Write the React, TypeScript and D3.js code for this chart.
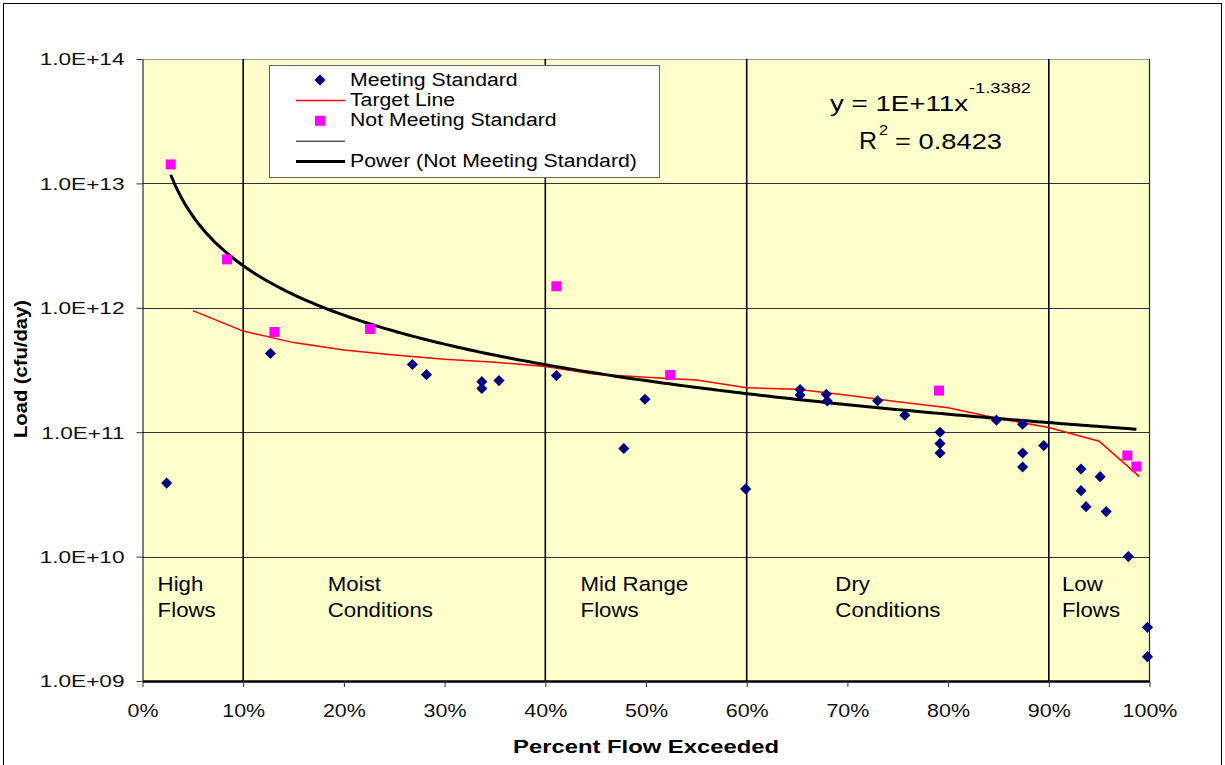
import React, { useEffect, useRef } from 'react';
import * as d3 from 'd3';

// percent flow exceeded (%) and load (cfu/day)
const meetingPct = [2.4, 12.7, 26.8, 28.2, 33.7, 33.7, 35.4, 41.1, 47.8, 49.9, 59.9, 65.3, 65.3, 67.9, 68.0, 73.0, 75.7, 79.2, 79.2, 79.2, 84.8, 87.4, 87.4, 87.4, 89.5, 93.2, 93.2, 93.7, 95.1, 95.7, 97.9, 99.8, 99.8];
const meetingLoad = [3.9e10, 4.3e11, 3.5e11, 2.9e11, 2.55e11, 2.25e11, 2.6e11, 2.85e11, 7.4e10, 1.84e11, 3.5e10, 2.2e11, 1.99e11, 2.02e11, 1.78e11, 1.79e11, 1.37e11, 1.0e11, 8.1e10, 6.8e10, 1.25e11, 1.16e11, 6.8e10, 5.25e10, 7.8e10, 5.06e10, 3.39e10, 2.52e10, 4.39e10, 2.3e10, 1.0e10, 2.7e9, 1.57e9];

const notMeetingPct = [2.8, 8.4, 13.1, 22.6, 41.1, 52.4, 79.1, 97.8, 98.7];
const notMeetingLoad = [1.42e13, 2.45e12, 6.4e11, 6.76e11, 1.49e12, 2.88e11, 2.16e11, 6.5e10, 5.3e10];

const targetPct = [5, 10, 15, 20, 25, 30, 35, 40, 45, 50, 55, 60, 65, 70, 75, 80, 85, 90, 95, 99];
const targetLoad = [9.5e11, 6.5e11, 5.25e11, 4.58e11, 4.17e11, 3.86e11, 3.65e11, 3.37e11, 2.92e11, 2.76e11, 2.63e11, 2.28e11, 2.21e11, 1.98e11, 1.76e11, 1.57e11, 1.29e11, 1.09e11, 8.45e10, 4.39e10];

const xTicks = [0, 10, 20, 30, 40, 50, 60, 70, 80, 90, 100];
const xTickLabels = ['0%', '10%', '20%', '30%', '40%', '50%', '60%', '70%', '80%', '90%', '100%'];
const yTicks = [1e9, 1e10, 1e11, 1e12, 1e13, 1e14];
const yTickLabels = ['1.0E+09', '1.0E+10', '1.0E+11', '1.0E+12', '1.0E+13', '1.0E+14'];

const zoneBreaks = [10, 40, 60, 90];
const zoneNames = [['High', 'Flows'], ['Moist', 'Conditions'], ['Mid Range', 'Flows'], ['Dry', 'Conditions'], ['Low', 'Flows']];
const zoneLabelPct = [1.5, 18.4, 43.5, 68.8, 91.3];

const legendLabels = ['Meeting Standard', 'Target Line', 'Not Meeting Standard', '', 'Power (Not Meeting Standard)'];
const eqMain = 'y = 1E+11x';
const eqExp = '-1.3382';
const r2Value = '= 0.8423';

const FONT = '"Liberation Sans", Arial, Helvetica, sans-serif';

// widen text by a factor (the original export is stretched horizontally)
const stretch = (sel, f) => {
  sel.each(function () {
    const w = this.getComputedTextLength();
    d3.select(this).attr('textLength', w * f).attr('lengthAdjust', 'spacingAndGlyphs');
  });
};

const LoadDurationChart = () => {
  const svgRef = useRef();

  useEffect(() => {
    const svg = d3.select(svgRef.current);
    svg.selectAll('*').remove();

    const width = 1225;
    const height = 765;
    const plot = { left: 142.5, right: 1149.5, top: 59, bottom: 681 };

    const x = d3.scaleLinear().domain([0, 100]).range([plot.left, plot.right]);
    const y = d3.scaleLog().domain([1e9, 1e14]).range([plot.bottom, plot.top]);

    svg.append('rect')
      .attr('width', width).attr('height', height).attr('fill', '#fff');
    svg.append('rect')
      .attr('x', 3.5).attr('y', 3.5).attr('width', 1218).attr('height', 775)
      .attr('fill', 'none').attr('stroke', '#000').attr('stroke-width', 1);

    svg.append('rect')
      .attr('x', plot.left).attr('y', plot.top)
      .attr('width', plot.right - plot.left).attr('height', plot.bottom - plot.top)
      .attr('fill', '#ffffcc');

    // horizontal gridlines
    svg.append('g')
      .selectAll('line')
      .data(yTicks.slice(1, -1))
      .join('line')
      .attr('x1', plot.left).attr('x2', plot.right)
      .attr('y1', (d) => Math.round(y(d)) + 0.5).attr('y2', (d) => Math.round(y(d)) + 0.5)
      .attr('stroke', '#333').attr('stroke-width', 1);
    svg.append('line')
      .attr('x1', plot.left).attr('x2', plot.right)
      .attr('y1', plot.top + 0.5).attr('y2', plot.top + 0.5)
      .attr('stroke', '#999');

    // flow zone dividers
    svg.append('g')
      .selectAll('line')
      .data(zoneBreaks)
      .join('line')
      .attr('x1', (d) => x(d)).attr('x2', (d) => x(d))
      .attr('y1', plot.top).attr('y2', plot.bottom)
      .attr('stroke', '#000').attr('stroke-width', 1.6);
    svg.append('line')
      .attr('x1', plot.right).attr('x2', plot.right)
      .attr('y1', plot.top).attr('y2', plot.bottom)
      .attr('stroke', '#222').attr('stroke-width', 1.2);

    // zone labels
    const zl = svg.append('g')
      .attr('font-family', FONT).attr('font-size', 21).attr('fill', '#000');
    zoneNames.forEach((lines, i) => {
      lines.forEach((t, j) => {
        zl.append('text')
          .attr('x', x(zoneLabelPct[i]))
          .attr('y', y(1e10) + 34 + j * 26.7)
          .text(t);
      });
    });
    stretch(zl.selectAll('text'), 1.06);

    // target line
    const targetPts = targetPct.map((p, i) => [p, targetLoad[i]]);
    svg.append('path')
      .datum(targetPts)
      .attr('fill', 'none')
      .attr('stroke', '#ff0000')
      .attr('stroke-width', 1.5)
      .attr('d', d3.line().x((d) => x(d[0])).y((d) => y(d[1])));

    // power trendline fitted to the Not Meeting Standard points
    const lx = notMeetingPct.map((p) => Math.log(p / 100));
    const ly = notMeetingLoad.map((v) => Math.log(v));
    const mx = d3.mean(lx);
    const my = d3.mean(ly);
    const b = d3.sum(lx, (v, i) => (v - mx) * (ly[i] - my)) / d3.sum(lx, (v) => (v - mx) ** 2);
    const a = Math.exp(my - b * mx);
    const x0 = d3.min(notMeetingPct);
    const x1 = d3.max(notMeetingPct);
    const fitPts = d3.range(x0, x1, 0.5).concat([x1]).map((p) => [p, a * Math.pow(p / 100, b)]);
    svg.append('path')
      .datum(fitPts)
      .attr('fill', 'none')
      .attr('stroke', '#000')
      .attr('stroke-width', 3)
      .attr('d', d3.line().x((d) => x(d[0])).y((d) => y(d[1])));

    // points
    const diamond = d3.symbol(d3.symbolSquare, 62)();
    svg.append('g')
      .selectAll('path')
      .data(meetingPct.map((p, i) => [p, meetingLoad[i]]))
      .join('path')
      .attr('d', diamond)
      .attr('transform', (d) => `translate(${x(d[0])},${y(d[1])}) rotate(45)`)
      .attr('fill', '#000080');

    const square = d3.symbol(d3.symbolSquare, 100)();
    svg.append('g')
      .selectAll('path')
      .data(notMeetingPct.map((p, i) => [p, notMeetingLoad[i]]))
      .join('path')
      .attr('d', square)
      .attr('transform', (d) => `translate(${x(d[0])},${y(d[1])})`)
      .attr('fill', '#ff00ff');

    // axes
    const yAxis = svg.append('g')
      .attr('transform', `translate(${plot.left},0)`)
      .call(d3.axisLeft(y).tickValues(yTicks).tickSize(6).tickSizeOuter(0).tickPadding(12)
        .tickFormat((d, i) => yTickLabels[i]));
    yAxis.select('.domain').attr('stroke', '#000');
    yAxis.selectAll('line').attr('stroke', '#333');
    yAxis.selectAll('text')
      .attr('font-family', FONT).attr('font-size', 17).attr('fill', '#111').attr('dy', '0.35em');
    yAxis.attr('font-size', null).attr('font-family', null);
    stretch(yAxis.selectAll('text'), 1.33);

    const xAxis = svg.append('g')
      .attr('transform', `translate(0,${plot.bottom})`)
      .call(d3.axisBottom(x).tickValues(xTicks).tickSize(6).tickSizeOuter(0)
        .tickFormat((d, i) => xTickLabels[i]));
    xAxis.select('.domain').attr('stroke', '#000').attr('stroke-width', 2.5);
    xAxis.selectAll('line').attr('stroke', '#333');
    xAxis.selectAll('text')
      .attr('font-family', FONT).attr('font-size', 19).attr('fill', '#111')
      .attr('y', 35.7).attr('dy', null);
    xAxis.attr('font-size', null).attr('font-family', null);
    stretch(xAxis.selectAll('text'), 1.13);

    svg.append('text')
      .attr('x', 646).attr('y', 753)
      .attr('text-anchor', 'middle')
      .attr('font-family', FONT).attr('font-size', 18).attr('font-weight', 'bold')
      .attr('textLength', 266).attr('lengthAdjust', 'spacingAndGlyphs')
      .text('Percent Flow Exceeded');

    svg.append('text')
      .attr('transform', 'translate(26.7,369) rotate(-90)')
      .attr('text-anchor', 'middle')
      .attr('font-family', FONT).attr('font-size', 18).attr('font-weight', 'bold')
      .attr('textLength', 138).attr('lengthAdjust', 'spacingAndGlyphs')
      .text('Load (cfu/day)');

    // legend
    const lg = svg.append('g');
    lg.append('rect')
      .attr('x', 269.5).attr('y', 65.5).attr('width', 390).attr('height', 112)
      .attr('fill', '#fff').attr('stroke', '#666').attr('stroke-width', 1);
    const rowY = (i) => 80 + i * 20.4;
    const keyX = 320;
    lg.append('path').attr('d', diamond)
      .attr('transform', `translate(${keyX},${rowY(0)}) rotate(45)`).attr('fill', '#000080');
    lg.append('line').attr('x1', 296).attr('x2', 345).attr('y1', rowY(1)).attr('y2', rowY(1))
      .attr('stroke', '#ff0000').attr('stroke-width', 1.5);
    lg.append('path').attr('d', square)
      .attr('transform', `translate(${keyX},${rowY(2)})`).attr('fill', '#ff00ff');
    lg.append('line').attr('x1', 296).attr('x2', 345).attr('y1', rowY(3)).attr('y2', rowY(3))
      .attr('stroke', '#000').attr('stroke-width', 1);
    lg.append('line').attr('x1', 296).attr('x2', 345).attr('y1', rowY(4)).attr('y2', rowY(4))
      .attr('stroke', '#000').attr('stroke-width', 3);
    const lt = lg.append('g').attr('font-family', FONT).attr('font-size', 18).attr('fill', '#000');
    legendLabels.forEach((t, i) => {
      if (!t) return;
      lt.append('text').attr('x', 350).attr('y', rowY(i) + 5.5).text(t);
    });
    stretch(lt.selectAll('text'), 1.18);

    // trendline equation
    const eq = svg.append('g').attr('font-family', FONT).attr('fill', '#000');
    eq.append('text').attr('x', 830).attr('y', 111).attr('font-size', 22)
      .attr('textLength', 138).attr('lengthAdjust', 'spacingAndGlyphs').text(eqMain);
    eq.append('text').attr('x', 969).attr('y', 93).attr('font-size', 14)
      .attr('textLength', 62).attr('lengthAdjust', 'spacingAndGlyphs').text(eqExp);
    eq.append('text').attr('x', 859).attr('y', 148.7).attr('font-size', 23)
      .attr('textLength', 18).attr('lengthAdjust', 'spacingAndGlyphs').text('R');
    eq.append('text').attr('x', 879).attr('y', 135).attr('font-size', 14)
      .attr('textLength', 9).attr('lengthAdjust', 'spacingAndGlyphs').text('2');
    eq.append('text').attr('x', 895).attr('y', 148.7).attr('font-size', 22)
      .attr('textLength', 107).attr('lengthAdjust', 'spacingAndGlyphs').text(r2Value);
  }, []);

  return (
    <svg
      ref={svgRef}
      width={1225}
      height={765}
      style={{ position: 'absolute', left: 0, top: 0, display: 'block' }}
    />
  );
};

export default function App() {
  return <LoadDurationChart />;
}
